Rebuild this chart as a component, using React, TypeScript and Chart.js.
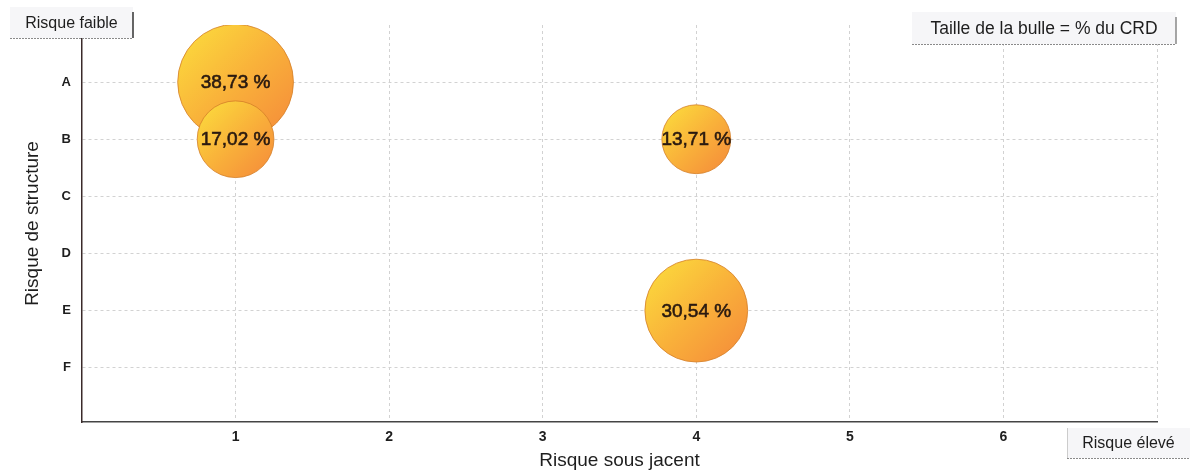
import React, { useEffect, useRef } from "react";
import { Chart, registerables } from "chart.js";

Chart.register(...registerables);

const categories = ["A", "B", "C", "D", "E", "F"];
const xTicks = [1, 2, 3, 4, 5, 6];
const bubbleX = [1, 1, 4, 4];
const bubbleCat = ["A", "B", "B", "E"];
const bubbleShare = [38.73, 17.02, 13.71, 30.54];

const FONT = "'Liberation Sans', Arial, Helvetica, sans-serif";
const SIZE_K = 9.3;

const fmt = (v: number) => v.toFixed(2).replace(".", ",") + " %";

const overlayPlugin = {
  id: "overlay",
  afterDatasetsDraw(chart: any) {
    const ctx = chart.ctx;
    const meta = chart.getDatasetMeta(0);
    ctx.save();
    ctx.font = `19px ${FONT}`;
    ctx.fillStyle = "#2a1a10";
    ctx.strokeStyle = "#2a1a10";
    ctx.lineWidth = 0.6;
    ctx.textAlign = "center";
    ctx.textBaseline = "middle";
    meta.data.forEach((el: any, i: number) => {
      ctx.fillText(fmt(bubbleShare[i]), el.x, el.y + 1);
      ctx.strokeText(fmt(bubbleShare[i]), el.x, el.y + 1);
    });
    ctx.restore();
  },
  afterDraw(chart: any) {
    const ctx = chart.ctx;
    const box = (x: number, y: number, w: number, h: number, text: string, fs: number, rightLine: string | null, leftLine: string | null) => {
      ctx.save();
      ctx.fillStyle = "#f6f6f8";
      ctx.fillRect(x, y, w, h);
      ctx.strokeStyle = "#8a8a8a";
      ctx.lineWidth = 1;
      ctx.setLineDash([2, 1]);
      ctx.beginPath();
      ctx.moveTo(x, y + h + 0.5);
      ctx.lineTo(x + w, y + h + 0.5);
      ctx.stroke();
      ctx.setLineDash([]);
      if (rightLine) {
        ctx.strokeStyle = rightLine;
        ctx.lineWidth = 1.5;
        ctx.beginPath();
        ctx.moveTo(x + w, y + 5);
        ctx.lineTo(x + w, y + h);
        ctx.stroke();
      }
      if (leftLine) {
        ctx.strokeStyle = leftLine;
        ctx.lineWidth = 1;
        ctx.beginPath();
        ctx.moveTo(x + 0.5, y);
        ctx.lineTo(x + 0.5, y + h);
        ctx.stroke();
      }
      ctx.fillStyle = "#1e1e1e";
      ctx.font = `${fs}px ${FONT}`;
      ctx.textAlign = "center";
      ctx.textBaseline = "middle";
      ctx.fillText(text, x + w / 2, y + h / 2 + 1);
      ctx.restore();
    };
    box(10, 7, 123, 31, "Risque faible", 16, "#333", null);
    box(912, 12, 264, 32, "Taille de la bulle = % du CRD", 17.5, "#888", null);
    box(1067, 428, 123, 30, "Risque élevé", 16, null, "#ccc");
  },
};

export default function App() {
  const ref = useRef<HTMLCanvasElement>(null);
  useEffect(() => {
    document.body.style.margin = "0";
    const data = bubbleShare.map((v, i) => ({
      x: bubbleX[i],
      y: categories.indexOf(bubbleCat[i]) + 1,
      r: SIZE_K * Math.sqrt(v),
    }));
    const chart = new Chart(ref.current!, {
      type: "bubble",
      data: {
        datasets: [
          {
            data,
            borderColor: "rgba(212,128,40,0.8)",
            borderWidth: 1,
            backgroundColor: (c: any) => {
              const ch = c.chart;
              const raw = c.raw;
              if (!ch.chartArea || !raw) return "#f8b13a";
              const px = ch.scales.x.getPixelForValue(raw.x);
              const py = ch.scales.y.getPixelForValue(raw.y);
              const r = raw.r;
              const g = ch.ctx.createLinearGradient(px - r * 0.7, py - r * 0.7, px + r * 0.7, py + r * 0.7);
              g.addColorStop(0, "#fbd23c");
              g.addColorStop(0.5, "#f9b23a");
              g.addColorStop(1, "#f6953a");
              return g;
            },
          },
        ],
      },
      options: {
        animation: false,
        responsive: false,
        maintainAspectRatio: false,
        layout: { autoPadding: false, padding: { top: 25, right: 37, left: 0, bottom: 0 } },
        plugins: { legend: { display: false }, tooltip: { enabled: false } },
        scales: {
          x: {
            type: "linear",
            min: 0,
            max: 7,
            afterBuildTicks: (s: any) => {
              s.ticks = [...xTicks, 7].map((v) => ({ value: v }));
            },
            afterFit: (s: any) => {
              s.height = 48;
            },
            ticks: {
              callback: (v: any) => (xTicks.includes(v) ? String(v) : ""),
              color: "#1e1e1e",
              font: { family: FONT, size: 14, weight: "bold" },
              padding: 7,
              maxRotation: 0,
            },
            grid: { color: "#d2d2d2", lineWidth: 1, drawTicks: false },
            border: { color: "#444", width: 1.5, dash: [3, 3] },
            title: {
              display: true,
              text: "Risque sous jacent",
              color: "#1e1e1e",
              font: { family: FONT, size: 19, lineHeight: 1 },
              padding: { top: 0, bottom: 0 },
            },
          },
          y: {
            type: "linear",
            reverse: true,
            min: 0,
            max: 6.95,
            afterBuildTicks: (s: any) => {
              s.ticks = categories.map((_, i) => ({ value: i + 1 }));
            },
            afterFit: (s: any) => {
              s.width = 82;
            },
            ticks: {
              callback: (v: any) => categories[v - 1] ?? "",
              color: "#1e1e1e",
              font: { family: FONT, size: 13, weight: "bold" },
              padding: 11,
            },
            grid: { color: "#d2d2d2", lineWidth: 1, drawTicks: false },
            border: { color: "#3a2a2a", width: 1.5, dash: [3, 3] },
            title: {
              display: true,
              text: "Risque de structure",
              color: "#1e1e1e",
              font: { family: FONT, size: 19 },
              padding: { top: 21, bottom: 0 },
            },
          },
        },
      } as any,
      plugins: [overlayPlugin],
    });
    return () => chart.destroy();
  }, []);
  return (
    <div style={{ position: "absolute", left: 0, top: 0, width: 1194, height: 470, background: "#fff" }}>
      <canvas ref={ref} width={1194} height={470} style={{ width: 1194, height: 470, display: "block" }} />
    </div>
  );
}
